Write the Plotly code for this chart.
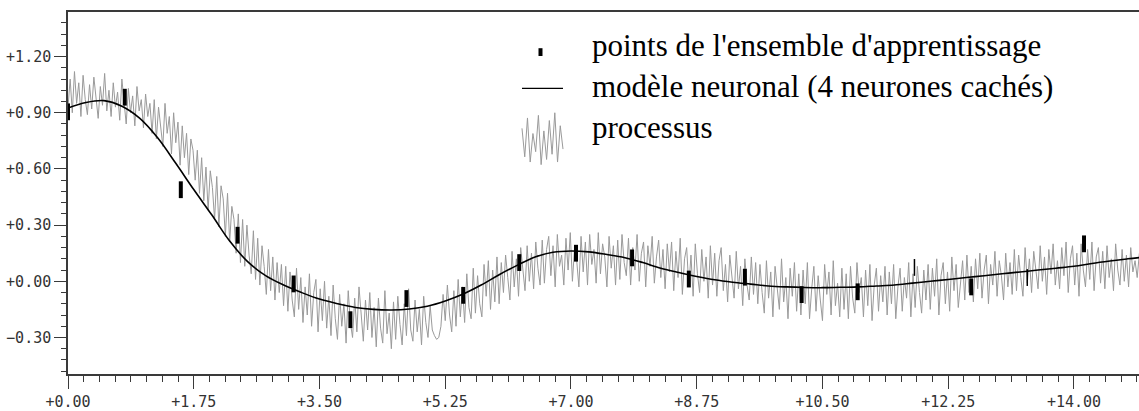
import plotly.graph_objects as go

# ---------------- data ----------------
# training points (x, y)
points_x = [0.00, 0.79, 1.57, 2.36, 3.14, 3.93, 4.71, 5.50, 6.28, 7.07,
            7.85, 8.64, 9.42, 10.21, 10.99, 11.78, 12.57, 13.35, 14.14]
points_y = [0.905, 0.983, 0.489, 0.246, -0.014, -0.205, -0.092, -0.075, 0.100, 0.150,
            0.125, 0.012, 0.022, -0.071, -0.056, 0.074, -0.030, 0.020, 0.200]

# neural model (4 hidden neurons)
model_x = [0.00, 0.25, 0.50, 0.75, 1.00, 1.25, 1.50, 1.75, 2.00, 2.25,
           2.50, 2.75, 3.00, 3.25, 3.50, 3.75, 4.00, 4.25, 4.50, 4.75,
           5.00, 5.25, 5.50, 5.75, 6.00, 6.25, 6.50, 6.75, 7.00, 7.25,
           7.50, 7.75, 8.00, 8.25, 8.50, 8.75, 9.00, 9.25, 9.50, 9.75,
           10.00, 10.25, 10.50, 10.75, 11.00, 11.25, 11.50, 11.75, 12.00, 12.25,
           12.50, 12.75, 13.00, 13.25, 13.50, 13.75, 14.00, 14.25, 14.50, 14.75, 15.00]
model_y = [0.925, 0.955, 0.965, 0.935, 0.870, 0.765, 0.630, 0.490, 0.355, 0.215,
           0.105, 0.030, -0.020, -0.060, -0.095, -0.120, -0.140, -0.150, -0.153, -0.148,
           -0.133, -0.105, -0.068, -0.020, 0.035, 0.085, 0.130, 0.155, 0.162, 0.157,
           0.143, 0.126, 0.100, 0.070, 0.047, 0.026, 0.008, -0.005, -0.015, -0.025,
           -0.030, -0.033, -0.034, -0.032, -0.030, -0.025, -0.020, -0.010, 0.000, 0.010,
           0.020, 0.030, 0.040, 0.050, 0.060, 0.070, 0.080, 0.095, 0.108, 0.120, 0.130]

# process (sampled every 0.03)
process_dt = 0.03
process_y = [
    0.93, 1.08, 0.90, 1.12, 0.95, 1.06, 0.88, 1.10, 0.97, 0.89, 1.05, 0.92, 1.09, 0.99, 0.87, 1.04, 0.94, 1.11, 0.91, 1.02,
    0.88, 1.06, 0.93, 1.01, 0.86, 1.08, 0.95, 0.84, 1.03, 0.90, 0.99, 0.83, 1.04, 0.91, 0.97, 0.82, 1.00, 0.88, 0.95, 0.79,
    0.97, 0.76, 0.93, 0.81, 0.72, 0.95, 0.79, 0.88, 0.68, 0.90, 0.74, 0.85, 0.62, 0.83, 0.66, 0.79, 0.57, 0.76, 0.70, 0.54,
    0.70, 0.47, 0.66, 0.43, 0.61, 0.38, 0.59, 0.50, 0.33, 0.56, 0.29, 0.51, 0.44, 0.24, 0.47, 0.21, 0.40, 0.33, 0.15, 0.36,
    0.10, 0.33, 0.08, 0.30, 0.14, 0.04, 0.27, 0.01, 0.23, -0.02, 0.19, 0.08, -0.07, 0.17, -0.05, 0.13, -0.10, 0.10, -0.06, 0.09,
    -0.13, 0.08, -0.16, 0.05, -0.10, -0.19, 0.07, -0.15, 0.02, -0.22, -0.03, -0.18, 0.04, -0.24, -0.06, 0.01, -0.27, -0.04, -0.21, 0.00,
    -0.25, -0.08, -0.29, -0.02, -0.20, -0.31, -0.07, -0.24, -0.12, -0.33, -0.05, -0.22, -0.30, -0.09, -0.27, -0.03, -0.19, -0.32, -0.10, -0.26,
    -0.06, -0.30, -0.14, -0.35, -0.09, -0.25, -0.33, -0.05, -0.28, -0.17, -0.36, -0.11, -0.31, -0.08, -0.23, -0.34, -0.12, -0.29, -0.04, -0.26,
    -0.32, -0.10, -0.27, -0.15, -0.34, -0.08, -0.22, -0.30, -0.13, -0.26, -0.29, -0.31, -0.30, -0.24, -0.07, -0.21, -0.02, -0.18, -0.27, -0.05,
    -0.24, 0.01, -0.19, -0.03, -0.22, 0.04, -0.14, -0.20, 0.07, -0.17, 0.03, -0.12, -0.19, 0.09, -0.08, 0.11, -0.15, 0.06, -0.11, 0.13,
    -0.12, 0.10, -0.06, 0.14, 0.02, -0.10, 0.16, -0.03, 0.12, -0.08, 0.18, 0.05, -0.05, 0.19, 0.00, 0.15, -0.04, 0.21, 0.07, -0.02,
    0.22, -0.01, 0.17, 0.24, 0.03, 0.19, -0.03, 0.25, 0.08, 0.14, -0.02, 0.23, 0.06, 0.26, 0.00, 0.18, 0.11, -0.03, 0.24, 0.05,
    0.21, -0.02, 0.25, 0.09, 0.17, -0.01, 0.26, 0.04, 0.20, 0.13, -0.03, 0.24, 0.07, 0.19, -0.02, 0.22, 0.01, 0.25, 0.10, 0.03,
    0.23, -0.02, 0.18, 0.06, 0.25, 0.00, 0.15, 0.21, -0.03, 0.19, 0.08, 0.24, -0.01, 0.13, 0.22, 0.02, 0.17, -0.04, 0.20, 0.05,
    0.21, -0.05, 0.16, 0.02, 0.23, -0.07, 0.12, 0.18, -0.03, 0.14, -0.08, 0.20, 0.04, -0.06, 0.17, 0.00, 0.13, -0.09, 0.19, -0.02,
    0.15, -0.08, 0.11, 0.18, -0.05, 0.09, -0.11, 0.14, 0.01, -0.09, 0.16, -0.04, 0.08, -0.13, 0.12, -0.02, -0.10, 0.13, -0.07, 0.10,
    -0.12, 0.09, -0.06, -0.17, 0.11, -0.09, 0.05, -0.19, 0.08, -0.03, -0.15, 0.12, -0.11, 0.02, -0.20, 0.07, -0.08, 0.10, -0.16, 0.04,
    -0.18, 0.06, -0.12, 0.10, -0.20, -0.04, 0.08, -0.16, 0.03, -0.10, -0.21, 0.09, -0.07, 0.05, -0.18, 0.11, -0.13, -0.01, -0.19, 0.07,
    -0.15, 0.04, -0.20, 0.08, -0.09, -0.17, 0.10, -0.06, 0.02, -0.19, 0.06, -0.13, 0.09, -0.21, -0.02, 0.07, -0.16, 0.03, -0.11, 0.08,
    -0.18, 0.05, -0.12, 0.09, -0.20, -0.03, 0.07, -0.16, 0.02, -0.09, 0.10, -0.19, 0.04, -0.14, 0.08, -0.06, -0.17, 0.06, -0.10, 0.09,
    -0.15, 0.07, -0.08, 0.12, -0.18, 0.03, 0.10, -0.12, 0.05, -0.16, 0.13, -0.05, 0.09, -0.14, 0.01, 0.11, -0.10, 0.14, -0.06, 0.08,
    -0.11, 0.12, -0.04, 0.15, -0.09, 0.06, 0.14, -0.12, 0.09, -0.02, 0.16, -0.08, 0.11, 0.03, -0.10, 0.15, -0.03, 0.10, -0.07, 0.17,
    -0.05, 0.14, 0.02, -0.08, 0.18, -0.01, 0.12, -0.06, 0.16, 0.05, -0.04, 0.19, 0.00, 0.13, -0.07, 0.17, 0.04, 0.20, -0.02, 0.11,
    -0.04, 0.18, 0.03, 0.21, -0.06, 0.12, 0.19, -0.02, 0.15, -0.08, 0.20, 0.06, -0.03, 0.17, 0.01, 0.21, -0.05, 0.13, 0.18, -0.01,
    0.16, -0.04, 0.19, 0.02, 0.12, -0.05, 0.20, 0.06, -0.02, 0.17, 0.00, 0.14, -0.03, 0.18, 0.05, 0.11, 0.02, 0.15,
]
process_t = [round(i * process_dt, 2) for i in range(len(process_y))]

legend_labels = ["points de l'ensemble d'apprentissage",
                 "modèle neuronal (4 neurones cachés)",
                 "processus"]
# legend icon of the noisy process (relative heights of zig-zag vertices)
legend_zigzag = [0.30, 0.85, 0.10, 0.95, 0.40, 0.75, 0.05, 1.00, 0.35, 0.90,
                 0.15, 0.80, 0.00, 0.95, 0.25, 0.70]

# ---------------- styles ----------------
point_stroke = [4, 4, 4, 4, 4, 4, 4, 4, 4, 4, 4, 4, 4, 4, 4, 1.5, 4, 1.5, 4]

# ---------------- layout geometry ----------------
W, H = 1139, 411
ML, MR, MT, MB = 68, 0, 12, 29
X_RANGE = [0, 14.905]
Y_RANGE = [-0.495, 1.438]
PW, PH = W - ML - MR, H - MT - MB


def px(xpix):
    return (xpix - ML) / PW


def py(ypix):
    return (H - MB - ypix) / PH


GRAY = "#9a9a9a"
AXIS = "#3a3a3a"
FMT = "0>+5.2f"   # gives +0.90 / -0.30

fig = go.Figure()
fig.add_trace(go.Scatter(x=process_t, y=process_y, mode="lines",
                         line=dict(color=GRAY, width=1), hoverinfo="skip",
                         showlegend=False))
fig.add_trace(go.Scatter(x=model_x, y=model_y, mode="lines",
                         line=dict(color="black", width=1.6, shape="spline"),
                         showlegend=False))
fig.add_trace(go.Scatter(x=points_x, y=points_y, mode="markers", cliponaxis=False,
                         marker=dict(symbol="line-ns", size=12, color="black",
                                     line=dict(color="black", width=point_stroke)),
                         showlegend=False))

tickfont = dict(family="DejaVu Sans Mono", size=15, color="#333333")
fig.update_xaxes(range=X_RANGE, tickmode="linear", tick0=0, dtick=1.75,
                 tickformat=FMT, ticks="outside", ticklen=13, tickwidth=1,
                 tickcolor=AXIS, showline=True, linecolor=AXIS, linewidth=1.5,
                 mirror=True, showgrid=False, zeroline=False, tickfont=tickfont,
                 minor=dict(dtick=0.21875, tick0=0, ticks="outside", ticklen=6,
                            tickwidth=1, tickcolor=AXIS, showgrid=False))
fig.update_yaxes(range=Y_RANGE, tickmode="linear", tick0=0, dtick=0.3,
                 tickformat=FMT, ticks="outside", ticklen=12, tickwidth=1,
                 tickcolor=AXIS, showline=True, linecolor=AXIS, linewidth=1.5,
                 mirror=False, showgrid=False, zeroline=False, tickfont=tickfont,
                 minor=dict(dtick=0.06, tick0=0, ticks="outside", ticklen=5,
                            tickwidth=1, tickcolor=AXIS, showgrid=False))

# ---- legend drawn manually ----
text_x = 590
text_centers = [46, 88, 130]
annotations = []
for lab, yc in zip(legend_labels, text_centers):
    annotations.append(dict(xref="paper", yref="paper", x=px(text_x), y=py(yc),
                            xanchor="left", yanchor="middle", showarrow=False,
                            text=lab, font=dict(family="Liberation Serif", size=31,
                                                color="black")))

shapes = []
# marker icon
shapes.append(dict(type="rect", xref="paper", yref="paper",
                   x0=px(538.5), x1=px(542.5), y0=py(57), y1=py(49),
                   fillcolor="black", line=dict(width=0)))
# line icon
shapes.append(dict(type="line", xref="paper", yref="paper",
                   x0=px(522), x1=px(563), y0=py(90), y1=py(90),
                   line=dict(color="black", width=1.2)))
# zig-zag icon
zx0, zx1, zy0, zy1 = 522, 563, 115, 168
n = len(legend_zigzag)
path = ""
for i, f in enumerate(legend_zigzag):
    xx = px(zx0 + (zx1 - zx0) * i / (n - 1))
    yy = py(zy0 + (zy1 - zy0) * f)
    path += ("M" if i == 0 else "L") + f"{xx:.5f},{yy:.5f}"
shapes.append(dict(type="path", xref="paper", yref="paper", path=path,
                   line=dict(color=GRAY, width=1)))

fig.update_layout(width=W, height=H, margin=dict(l=ML, r=MR, t=MT, b=MB),
                  paper_bgcolor="white", plot_bgcolor="white", showlegend=False,
                  annotations=annotations, shapes=shapes)

fig.write_html("out.html")
